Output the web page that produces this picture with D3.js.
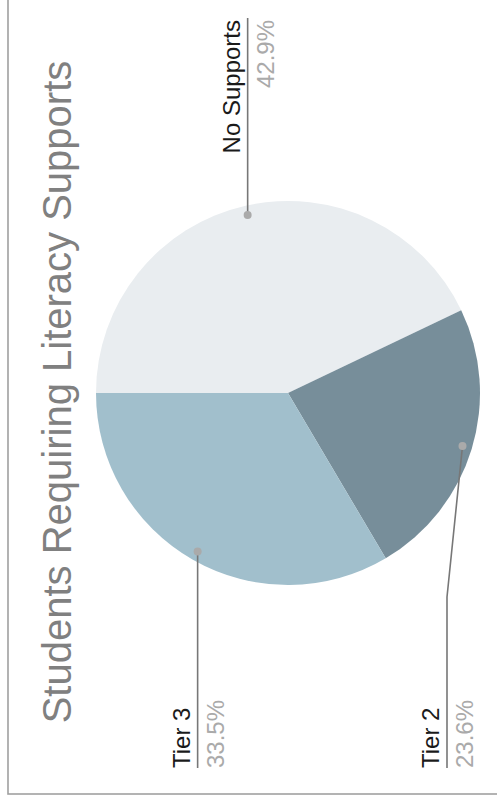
<!DOCTYPE html>
<meta charset="utf-8">
<style>
body { margin: 0; background: #fff; }
text { font-family: "Liberation Sans", Arial, sans-serif; }
.title { fill: #808080; font-size: 40px; text-anchor: middle; }
.label { fill: #1a1a1a; font-size: 24px; }
.pct { fill: #aaaaaa; font-size: 24px; }
.leader { fill: none; stroke: #777; stroke-width: 1.6px; }
.dot { fill: #aaaaaa; }
</style>
<body>
<script src="https://cdn.jsdelivr.net/npm/d3@7"></script>
<script>
// chart data
var title = "Students Requiring Literacy Supports";
var categories = ["No Supports", "Tier 2", "Tier 3"];
var values = [42.9, 23.6, 33.5];
var colors = ["#e9edf0", "#778e9a", "#a1bfcc"];

// the chart is laid out landscape (800 x 497) and then turned on its side
var W = 800, H = 497;
var cx = 407, cy = 288, r = 192;

var data = categories.map(function(c, i) { return {name: c, value: values[i]}; });

var svg = d3.select("body").append("svg")
    .attr("width", 497).attr("height", 800);

var g = svg.append("g").attr("transform", "translate(0,800) rotate(-90)");

// frame
g.append("rect")
    .attr("x", 6).attr("y", 8)
    .attr("width", 1000).attr("height", 1000)
    .attr("fill", "none").attr("stroke", "#a0a0a0").attr("stroke-width", 1.6);

g.append("text").attr("class", "title")
    .attr("x", cx + 1).attr("y", 71)
    .text(title);

var pie = d3.pie().sort(null).value(function(d) { return d.value; });
var arc = d3.arc().innerRadius(0).outerRadius(r);
var dotArc = d3.arc().innerRadius(r * 0.95).outerRadius(r * 0.95);
var arcs = pie(data);

var pieG = g.append("g").attr("transform", "translate(" + cx + "," + cy + ")");
pieG.selectAll("path").data(arcs).enter().append("path")
    .attr("d", arc)
    .attr("fill", function(d, i) { return colors[i]; });

// leader lines + labels
arcs.forEach(function(d) {
    var c = dotArc.centroid(d);
    var px = cx + c[0], py = cy + c[1];
    var right = px > cx;
    var ly = Math.min(py, H - 50);
    var elbowX = right ? cx + r + 12 : cx - r - 12;
    var endX = right ? W - 18 : 32;
    g.append("path").attr("class", "leader")
        .attr("d", d3.line()([[px, py], [elbowX, ly], [endX, ly]]));
    g.append("circle").attr("class", "dot")
        .attr("cx", px).attr("cy", py).attr("r", 4);
    var anchor = right ? "end" : "start";
    var tx = right ? endX - 2 : endX;
    g.append("text").attr("class", "label")
        .attr("x", tx).attr("y", ly - 8)
        .attr("text-anchor", anchor)
        .text(d.data.name);
    g.append("text").attr("class", "pct")
        .attr("x", tx).attr("y", ly + 26)
        .attr("text-anchor", anchor)
        .text(d.data.value.toFixed(1) + "%");
});
</script>
</body>
